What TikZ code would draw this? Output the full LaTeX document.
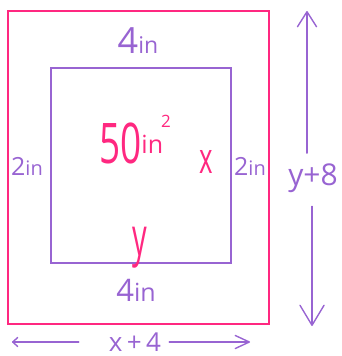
\documentclass[tikz,border=0pt]{standalone}
\usepackage{fontspec}
\setmainfont{Open Sans}
\usetikzlibrary{arrows.meta}
\definecolor{pk}{RGB}{255,40,128}
\definecolor{pu}{RGB}{152,100,210}
\tikzset{
  box/.style={draw, line width=1.8pt, minimum width=#1, inner sep=0pt},
  lbl/.style={text=pu, inner sep=0pt},
  dim/.style={draw=pu, line width=1.4pt, line cap=round},
  barb/.style n args={2}{-{Straight Barb[length=#1,width=#2,line width=1.4pt,round]}},
}
\newcommand{\fsz}[1]{\fontsize{#1}{#1}\selectfont}
\begin{document}
\begin{tikzpicture}[x=1pt,y=-1pt]
\useasboundingbox (0,0) rectangle (341,356);
\node[box=261pt, draw=pk, minimum height=313pt] (outer) at (138.5,167.5) {};
\node[box=180pt, draw=pu, minimum height=195pt] (inner) at (141,165.5) {};
% labels
\node[lbl, anchor=base] (top) at (138,53) {{\fsz{36}4}{\fsz{23}in}};
\node[lbl, anchor=base] (bot) at (136,301) {{\fsz{31}4}{\fsz{25}in}};
\node[lbl, anchor=base] (left) at (27,175) {{\fsz{25}2}{\fsz{20}in}};
\node[lbl, anchor=base] (right) at (250,175) {{\fsz{25}2}{\fsz{20}in}};
\node[text=pk, inner sep=0pt, anchor=base] (area) at (135,163) {{\fsz{56}\scalebox{0.66}[1]{50}}\raisebox{10pt}{\fsz{25}in}\kern-2pt\raisebox{36pt}{\fsz{17}2}};
\node[text=pk, inner sep=0pt, anchor=base] (xl) at (206,173) {\fsz{43}\scalebox{0.6}[1]{x}};
\node[text=pk, inner sep=0pt, anchor=base] (yl) at (140,255) {\fsz{53}\scalebox{0.55}[1]{y}};
\node[lbl, anchor=base] (yh) at (313,185) {\fsz{30}y+8};
\node[lbl, anchor=base] (xw) at (135,351) {\fsz{26}x\,+\,4};
% dimension arrows
\coordinate (upT) at (307,11);
\coordinate (dnB) at (312,326);
\coordinate (lfT) at (12,342);
\coordinate (rtT) at (250,342);
\draw[dim, barb={15pt}{19pt}] (yh.north -| upT) ++(0,-10) -- (upT);
\draw[dim, barb={20pt}{24pt}] (yh.south -| dnB) ++(0,14) -- (dnB);
\draw[dim, barb={5pt}{9pt}] (xw.west |- lfT) ++(-30,0) -- (lfT);
\draw[dim, barb={14pt}{13pt}] (xw.east |- rtT) ++(8,0) -- (rtT);
\end{tikzpicture}
\end{document}
